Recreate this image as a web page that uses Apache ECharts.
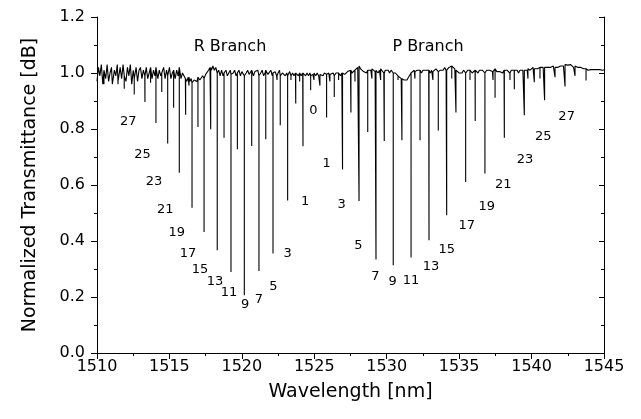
<!DOCTYPE html>
<html>
<head>
<meta charset="utf-8">
<script src="https://cdn.jsdelivr.net/npm/echarts@6/dist/echarts.min.js"></script>
<style>
html,body{margin:0;padding:0;background:#fff;}
#chart{width:641px;height:419px;}
</style>
</head>
<body>
<div id="chart"></div>
<script>
// Baseline transmittance, sampled every 0.1 nm from 1510.0 to 1545.0 nm
const baseStart = 1510;
const baseStep = 0.1;
const baseline = [
  // 1510.0 - 1513.0
  0.97,1.02,0.99,1.03,0.96,1.01,0.98,1.03,0.97,1.00,
  1.02,0.96,1.01,0.99,1.03,0.97,1.02,0.98,1.03,0.99,
  0.97,1.02,0.99,1.03,0.96,1.01,0.98,1.02,0.97,1.01,
  1.02,
  // 1513.1 - 1516.0
  0.98,1.01,0.99,1.02,0.98,1.00,1.02,0.98,1.01,0.99,
  1.02,0.98,1.01,0.99,1.00,1.02,0.98,1.01,0.99,1.02,
  0.98,1.00,1.01,0.98,1.01,0.99,1.02,0.98,1.00,0.99,
  // 1516.1 - 1517.5
  0.98,0.97,0.985,0.97,0.98,0.965,0.975,0.98,0.97,0.985,
  0.975,0.98,0.99,0.98,0.995,
  // 1517.6 - 1518.5
  1.00,1.01,1.02,1.01,1.025,1.01,1.02,1.00,1.01,0.99,
  // 1518.6 - 1525.0
  1.01,0.99,1.00,1.01,0.99,1.00,1.01,0.995,1.00,1.01,
  0.99,1.00,1.01,0.99,1.005,1.01,0.99,1.00,1.01,0.995,
  1.00,1.01,0.99,1.005,1.00,1.01,0.99,1.00,1.01,0.99,
  1.00,1.01,0.995,1.00,1.01,0.99,1.00,1.005,0.99,1.00,
  1.01,0.99,1.00,1.005,0.99,1.00,0.99,1.005,0.99,1.00,
  0.99,1.00,0.995,0.99,1.00,0.99,1.00,0.995,0.99,1.00,
  0.99,1.00,0.99,0.995,1.00,
  // 1525.1 - 1528.0
  0.99,1.00,0.99,0.995,1.00,0.99,1.00,0.995,0.99,1.00,
  0.995,0.99,1.00,0.99,1.00,0.995,1.00,0.99,1.00,1.00,
  0.995,1.00,1.005,1.00,1.01,1.00,1.005,1.01,1.015,1.02,
  // 1528.1 - 1530.5
  1.025,1.015,1.01,1.005,1.01,1.00,1.01,1.005,1.01,1.015,
  1.01,1.005,1.01,1.00,1.01,1.015,1.01,1.00,1.01,1.005,
  1.01,1.00,1.01,1.005,1.00,
  // 1530.6 - 1532.0
  1.00,0.995,0.99,0.985,0.98,0.975,0.975,0.98,0.975,0.985,
  0.99,1.00,1.005,1.01,1.005,
  // 1532.1 - 1535.0
  1.01,1.005,1.01,1.00,1.01,1.005,1.01,1.005,1.01,1.00,
  1.01,1.005,1.01,1.015,1.01,1.005,1.01,1.015,1.01,1.02,
  1.01,1.015,1.02,1.015,1.025,1.02,1.015,1.01,1.005,1.00,
  // 1535.1 - 1537.5
  1.005,1.00,1.01,1.005,1.00,1.01,1.005,1.01,1.00,1.005,
  1.01,1.005,1.00,1.01,1.005,1.01,1.005,1.00,1.01,1.005,
  1.01,1.01,1.005,1.01,1.015,
  // 1537.6 - 1540.0
  1.005,1.01,1.005,1.01,1.00,1.01,1.005,1.01,1.005,1.00,
  1.01,1.005,1.01,1.005,1.01,1.00,1.01,1.005,1.01,1.01,
  1.005,1.01,1.015,1.01,
  // 1540.1 - 1545.0
  1.015,1.02,1.015,1.02,1.015,1.02,1.02,1.015,1.02,1.02,
  1.015,1.02,1.025,1.02,1.02,1.025,1.02,1.025,1.02,1.025,
  1.025,1.02,1.025,1.03,1.025,1.028,1.025,1.03,1.025,1.02,
  1.025,1.02,1.02,1.015,1.02,1.015,1.015,1.01,1.015,1.01,
  1.015,1.012,1.01,1.012,1.01,1.012,1.01,1.012,1.012,1.01,1.012
];

// Absorption lines: wavelength [nm] and minimum transmittance
const dipWl = [
  1510.48,1511.06,1511.45,1511.88,1512.57,1513.31,1514.07,1514.47,1514.88,1515.29,
  1515.68,1516.12,1516.56,1516.97,1517.39,1517.85,1518.30,1518.77,1519.25,1519.69,
  1520.17,1520.68,1521.18,1521.65,1522.15,1522.65,1523.16,1523.72,1524.22,1524.75,
  1525.39,1525.85,1526.38,1526.95,1527.53,1528.09,1528.69,1529.26,1529.83,1530.45,
  1531.05,1531.68,1532.30,1532.92,1533.56,1534.14,1534.78,1535.45,1536.11,1536.78,
  1537.48,1538.12,1538.81,1539.50,1540.19,1540.90,1542.31,1543.76,
  // weak hot-band lines
  1513.70,1516.35,1522.43,1523.39,1523.99,1524.98,1526.08,1526.68,1527.81,1528.98,
  1529.58,1530.78,1531.95,1533.19,1534.49,1535.75,1537.34,1538.51,1539.75,1540.58,
  1541.62,1543.00
];
const dipVal = [
  0.96,0.955,0.96,0.944,0.923,0.896,0.821,0.932,0.748,0.876,
  0.644,0.851,0.519,0.807,0.432,0.799,0.367,0.769,0.289,0.728,
  0.206,0.739,0.293,0.763,0.355,0.813,0.545,0.891,0.738,0.938,
  0.955,0.841,0.914,0.655,0.859,0.543,0.789,0.334,0.757,0.313,
  0.760,0.341,0.760,0.403,0.795,0.492,0.859,0.611,0.829,0.641,
  0.912,0.769,0.942,0.849,0.967,0.903,0.952,0.973,
  0.965,0.955,0.975,0.975,0.97,0.975,0.97,0.975,0.97,0.98,
  0.975,0.975,0.98,0.975,0.98,0.975,0.975,0.975,0.98,0.98,
  0.985,0.99
];

// Rotational line labels
const labelText = ['27','25','23','21','19','17','15','13','11','9','7','5','3','1','0',
  '1','3','5','7','9','11','13','15','17','19','21','23','25','27'];
const labelWl = [1512.16,1513.14,1513.93,1514.71,1515.50,1516.28,1517.11,1518.15,1519.11,1520.22,1521.18,1522.17,1523.16,1524.36,1524.93,
  1525.86,1526.89,1528.04,1529.21,1530.41,1531.68,1533.06,1534.14,1535.52,1536.90,1538.05,1539.54,1540.81,1542.42];
const labelVal = [0.828,0.709,0.611,0.512,0.429,0.355,0.298,0.256,0.217,0.174,0.19,0.238,0.355,0.539,0.867,
  0.676,0.531,0.382,0.274,0.254,0.26,0.307,0.369,0.456,0.521,0.603,0.691,0.771,0.845];

const branchText = ['R Branch','P Branch'];
const branchWl = [1519.18,1532.85];
const branchVal = [1.093,1.092];

const xTicks = [1510,1515,1520,1525,1530,1535,1540,1545];
const yTicks = [0.0,0.2,0.4,0.6,0.8,1.0,1.2];

// Build the spectrum polyline from the baseline grid and the absorption lines
const order = dipWl.map((w,i)=>i).sort((a,b)=>dipWl[a]-dipWl[b]);
const spectrum = [];
let d = 0;
for (let i = 0; i < baseline.length; i++) {
  const x = baseStart + i*baseStep;
  spectrum.push([x, baseline[i]]);
  while (d < order.length && dipWl[order[d]] < x + baseStep && dipWl[order[d]] >= x) {
    const k = order[d];
    const near = Math.min(baseline.length-1, Math.round((dipWl[k]-baseStart)/baseStep));
    const top = baseline[near];
    spectrum.push([dipWl[k], top]);
    spectrum.push([dipWl[k], dipVal[k]]);
    spectrum.push([dipWl[k], top]);
    d++;
  }
}

const FONT = 'DejaVu Sans, Liberation Sans, sans-serif';
const chart = echarts.init(document.getElementById('chart'), null, {renderer:'canvas'});
chart.setOption({
  animation: false,
  backgroundColor: '#fff',
  grid: {left: 97, right: 37, top: 17, bottom: 66},
  xAxis: [{
    type: 'value', min: 1510, max: 1545, interval: 5,
    name: 'Wavelength [nm]', nameLocation: 'middle', nameGap: 30,
    nameTextStyle: {fontFamily: FONT, fontSize: 19, color: '#000'},
    axisLine: {lineStyle: {color: '#000', width: 1}},
    axisTick: {show: true, length: 6, inside: false, lineStyle: {color: '#000'}},
    minorTick: {show: true, splitNumber: 2, length: 3, lineStyle: {color: '#000'}},
    axisLabel: {fontFamily: FONT, fontSize: 16, color: '#000', margin: 6,
      formatter: v => xTicks.includes(v) ? String(v) : ''},
    splitLine: {show: false}
  },{
    type: 'value', min: 1510, max: 1545, interval: 5, position: 'top',
    axisLine: {lineStyle: {color: '#000', width: 1}},
    axisTick: {show: true, length: 5, inside: true, lineStyle: {color: '#000'}},
    minorTick: {show: true, splitNumber: 2, length: 3, lineStyle: {color: '#000'}},
    axisLabel: {show: false}, splitLine: {show: false}
  }],
  yAxis: [{
    type: 'value', min: 0, max: 1.2, interval: 0.2,
    name: 'Normalized Transmittance [dB]', nameLocation: 'middle', nameGap: 57,
    nameTextStyle: {fontFamily: FONT, fontSize: 19, color: '#000'},
    axisLine: {show: true, lineStyle: {color: '#000', width: 1}},
    axisTick: {show: true, length: 6, inside: false, lineStyle: {color: '#000'}},
    minorTick: {show: true, splitNumber: 2, length: 3, lineStyle: {color: '#000'}},
    axisLabel: {fontFamily: FONT, fontSize: 16, color: '#000', margin: 12,
      formatter: v => yTicks.some(t => Math.abs(t - v) < 1e-9) ? v.toFixed(1) : ''},
    splitLine: {show: false}
  },{
    type: 'value', min: 0, max: 1.2, interval: 0.2, position: 'right',
    axisLine: {show: true, lineStyle: {color: '#000', width: 1}},
    axisTick: {show: true, length: 5, inside: true, lineStyle: {color: '#000'}},
    minorTick: {show: true, splitNumber: 2, length: 3, lineStyle: {color: '#000'}},
    axisLabel: {show: false}, splitLine: {show: false}
  }],
  series: [{
    type: 'line', data: spectrum, symbol: 'none',
    lineStyle: {color: '#000', width: 1.1}, z: 3
  },{
    type: 'scatter', symbolSize: 0, itemStyle: {opacity: 1, color: '#000'},
    data: labelText.map((t,i)=>({name: t, value: [labelWl[i], labelVal[i]]})),
    label: {show: true, position: 'inside', formatter: p => p.name, opacity: 1,
      fontFamily: FONT, fontSize: 13, color: '#000'}
  },{
    type: 'scatter', symbolSize: 0, itemStyle: {opacity: 1, color: '#000'},
    data: branchText.map((t,i)=>({name: t, value: [branchWl[i], branchVal[i]]})),
    label: {show: true, position: 'inside', formatter: p => p.name, opacity: 1,
      fontFamily: FONT, fontSize: 16, color: '#000'}
  }]
});
</script>
</body>
</html>
